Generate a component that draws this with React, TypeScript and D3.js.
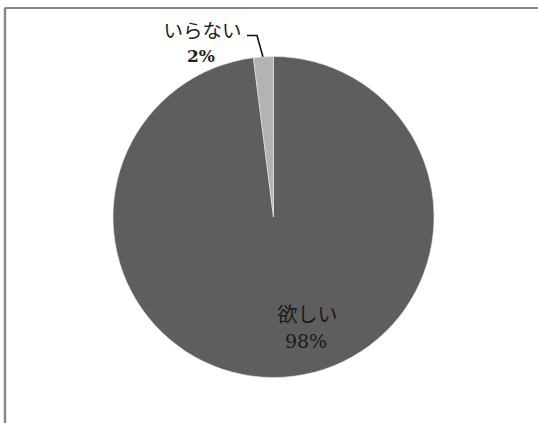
import React from "react";
import * as d3 from "d3";

const categories = ["欲しい", "いらない"];
const values = [98, 2];
const percentLabels = ["98%", "2%"];
const colors = ["#5e5e5e", "#b3b3b3"];

export default function App() {
  const W = 538, H = 423;
  const cx = 273.5, cy = 217, r = 160.5;
  const pie = d3.pie<number>().sort(null).value((d) => d);
  const arcs = pie(values);
  const arc = d3.arc<d3.PieArcDatum<number>>().innerRadius(0).outerRadius(r);
  const font = "'Noto Sans CJK JP', 'Noto Sans', sans-serif";
  const serif = "'DejaVu Serif', serif";
  const smallArc = arcs[1];
  const smallMid = (smallArc.startAngle + smallArc.endAngle) / 2;
  const edgeX = cx + Math.sin(smallMid) * r;
  const edgeY = cy - Math.cos(smallMid) * r;
  return (
    <svg width={W} height={H} style={{ position: "absolute", left: 0, top: 0, background: "#fff" }}>
      <line x1={4.5} y1={8} x2={W} y2={8} stroke="#888" strokeWidth={2} />
      <line x1={5} y1={8} x2={5} y2={H} stroke="#888" strokeWidth={2.5} />
      <g transform={`translate(${cx},${cy})`}>
        {arcs.map((a, i) => (
          <path key={categories[i]} d={arc(a) || ""} fill={colors[i]} stroke="#e8e8e8" strokeWidth={0.6} />
        ))}
      </g>
      <polyline
        points={`247,35.5 257,35.5 ${edgeX - 0.5},${edgeY}`}
        fill="none"
        stroke="#111"
        strokeWidth={1.6}
      />
      <text x={202.5} y={38} textAnchor="middle" fontFamily={font} fontSize={19.5} fill="#222">
        {categories[1]}
      </text>
      <text x={201} y={62} textAnchor="middle" fontFamily={serif} fontWeight="bold" fontSize={17} fill="#222">
        {percentLabels[1]}
      </text>
      <text x={306} y={347.5} textAnchor="middle" fontFamily={serif} fontSize={19} fill="#1a1a1a">
        {percentLabels[0]}
      </text>
      <text x={307.5} y={322} textAnchor="middle" fontFamily={font} fontSize={20} fill="#1a1a1a">
        {categories[0]}
      </text>
    </svg>
  );
}
